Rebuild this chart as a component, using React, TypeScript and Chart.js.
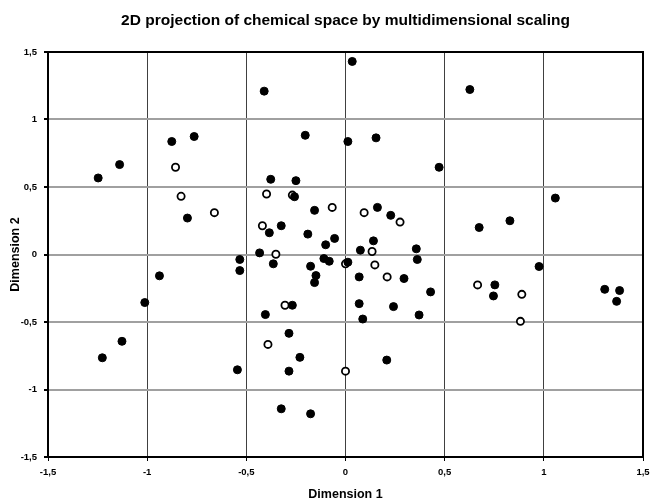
import React, { useEffect, useRef } from "react";
import { Chart, registerables } from "chart.js";

Chart.register(...registerables);

const chartTitle = "2D projection of chemical space by multidimensional scaling";
const xAxisTitle = "Dimension 1";
const yAxisTitle = "Dimension 2";
const tickValues = [-1.5, -1, -0.5, 0, 0.5, 1, 1.5];
const tickLabels = ["-1,5", "-1", "-0,5", "0", "0,5", "1", "1,5"];

const filledX = [
  0.034, -0.41, -0.876, -0.763, -0.203, 0.012, -1.139, -1.247, -0.377, -0.25,
  -0.257, -0.156, -0.797, -0.384, -0.324, -0.19, -0.1, -0.055, -0.433, -0.533,
  -0.109, -0.082, 0.012, 0.627, 0.154, 0.472, 1.058, 0.161, 0.228, 0.829,
  0.674, 0.141, 0.075, 0.357, 0.362, 0.069, 0.295, 0.429, 0.069, 0.242,
  0.087, 0.371, 0.208, 0.976, 0.753, 0.746, 1.307, 1.382, 1.367, -0.533,
  -0.364, -0.176, -0.149, -0.156, -0.938, -1.012, -0.268, -0.404, -0.285, -0.23,
  -0.285, -0.545, -1.127, -1.226, -0.324, -0.176,
];
const filledY = [
  1.43, 1.21, 0.837, 0.874, 0.883, 0.837, 0.666, 0.567, 0.557, 0.547,
  0.428, 0.327, 0.27, 0.161, 0.213, 0.151, 0.072, 0.119, 0.012, -0.037,
  -0.03, -0.05, -0.057, 1.222, 0.864, 0.646, 0.418, 0.349, 0.29, 0.25,
  0.2, 0.101, 0.032, 0.042, -0.037, -0.166, -0.178, -0.277, -0.364, -0.386,
  -0.478, -0.448, -0.782, -0.089, -0.225, -0.307, -0.258, -0.267, -0.347, -0.119,
  -0.069, -0.087, -0.156, -0.208, -0.158, -0.356, -0.376, -0.445, -0.584, -0.762,
  -0.864, -0.854, -0.643, -0.765, -1.143, -1.18,
];

const openX = [
  -0.857, -0.829, -0.398, -0.268, -0.067, -0.661, -0.419, -0.351, 0, 0.094,
  0.275, 0.134, 0.148, 0.21, 0, 0.666, 0.889, 0.882, -0.305, -0.391,
];
const openY = [
  0.646, 0.431, 0.448, 0.44, 0.349, 0.31, 0.213, 0.002, -0.069, 0.31,
  0.24, 0.022, -0.077, -0.166, -0.864, -0.225, -0.295, -0.495, -0.376, -0.666,
];

const FONT = "'Liberation Sans', Arial, sans-serif";

function labelFor(v: number): string {
  for (let i = 0; i < tickValues.length; i++) {
    if (Math.abs(tickValues[i] - v) < 1e-6) return tickLabels[i];
  }
  return "";
}

const frameBox = {
  id: "frameBox",
  afterDatasetsDraw(chart: any) {
    const { ctx, chartArea } = chart;
    ctx.save();
    ctx.strokeStyle = "#000";
    ctx.lineWidth = 2;
    ctx.strokeRect(chartArea.left, chartArea.top, chartArea.right - chartArea.left, chartArea.bottom - chartArea.top);
    ctx.restore();
  },
  afterDraw(chart: any) {
    const { ctx, chartArea } = chart;
    ctx.save();
    ctx.fillStyle = "#000";
    ctx.font = "bold 15.5px " + FONT;
    ctx.textAlign = "center";
    ctx.textBaseline = "middle";
    ctx.fillText(chartTitle, (chartArea.left + chartArea.right) / 2, 20.5);
    ctx.restore();
  },
};

export default function App() {
  const ref = useRef<HTMLCanvasElement | null>(null);
  useEffect(() => {
    if (!ref.current) return;
    const filled = filledX.map((x, i) => ({ x, y: filledY[i] }));
    const open = openX.map((x, i) => ({ x, y: openY[i] }));
    const chart = new Chart(ref.current, {
      type: "scatter",
      data: {
        datasets: [
          {
            label: "filled",
            data: filled,
            pointRadius: 4,
            pointBorderWidth: 1,
            backgroundColor: "#000",
            borderColor: "#000",
          },
          {
            label: "open",
            data: open,
            pointRadius: 3.6,
            pointBorderWidth: 1.8,
            backgroundColor: "#fff",
            borderColor: "#000",
          },
        ],
      },
      plugins: [frameBox],
      options: {
        responsive: false,
        animation: false,
        layout: { padding: { left: 0, right: 7, top: 52, bottom: 0 } },
        plugins: {
          legend: { display: false },
          tooltip: { enabled: false },
          title: { display: false },
        },
        scales: {
          x: {
            type: "linear",
            min: -1.5,
            max: 1.5,
            afterFit(scale: any) {
              scale.height = 41;
              scale.paddingLeft = 0;
              scale.paddingRight = 0;
            },
            afterBuildTicks(scale: any) {
              scale.ticks = tickValues.map((v) => ({ value: v }));
            },
            ticks: {
              color: "#000",
              font: { family: FONT, size: 9.5, weight: "bold" },
              padding: 6,
              maxRotation: 0,
              callback: (v: any) => labelFor(Number(v)),
            },
            grid: {
              color: "#404040",
              lineWidth: 1,
              drawTicks: true,
              tickLength: 4,
              tickColor: "#000",
            },
            border: { display: false },
            title: {
              display: true,
              text: xAxisTitle,
              color: "#000",
              font: { family: FONT, size: 12.5, weight: "bold" },
              padding: { top: 0, bottom: -4 },
            },
          },
          y: {
            type: "linear",
            min: -1.5,
            max: 1.5,
            afterFit(scale: any) {
              scale.width = 48;
              scale.paddingTop = 0;
              scale.paddingBottom = 0;
            },
            afterBuildTicks(scale: any) {
              scale.ticks = tickValues.map((v) => ({ value: v }));
            },
            ticks: {
              color: "#000",
              font: { family: FONT, size: 9.5, weight: "bold" },
              padding: 7,
              callback: (v: any) => labelFor(Number(v)),
            },
            grid: {
              color: "#a0a0a0",
              lineWidth: 2,
              drawTicks: true,
              tickLength: 4,
              tickColor: "#000",
            },
            border: { display: false },
            title: {
              display: true,
              text: yAxisTitle,
              color: "#000",
              font: { family: FONT, size: 12.5, weight: "bold" },
              padding: { top: 8, bottom: 0 },
            },
          },
        },
      },
    } as any);
    return () => chart.destroy();
  }, []);
  return (
    <div style={{ position: "fixed", left: 0, top: 0, width: 650, height: 498, background: "#fff" }}>
      <canvas ref={ref} width={650} height={498} style={{ width: 650, height: 498 }} />
    </div>
  );
}
